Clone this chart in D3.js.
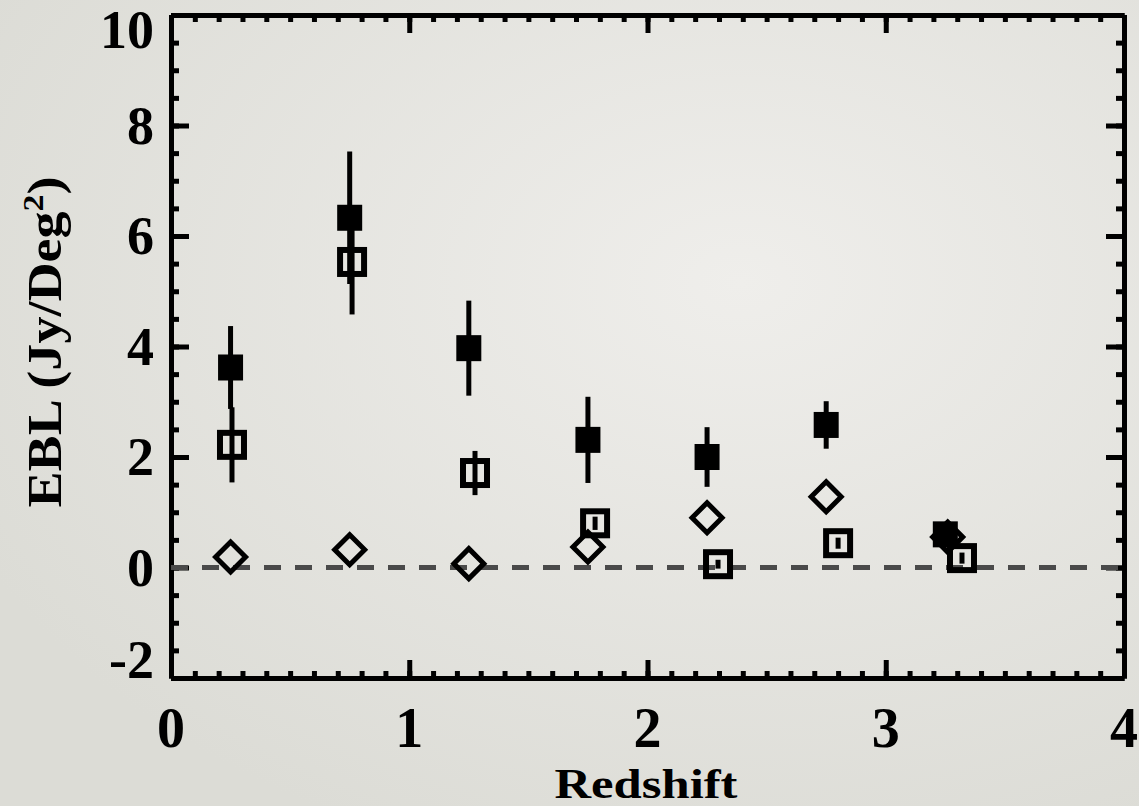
<!DOCTYPE html>
<html>
<head>
<meta charset="utf-8">
<script src="https://cdn.jsdelivr.net/npm/d3@7"></script>
<style>
  html, body { margin: 0; padding: 0; background: #e4e4df; }
  svg { display: block; }
  text { font-family: "Liberation Serif", "Times New Roman", serif; font-weight: bold; fill: #000; }
</style>
</head>
<body>
<svg id="chart"></svg>
<script>
// values
var redshiftFilled = [0.25, 0.75, 1.25, 1.75, 2.25, 2.75, 3.25];
var eblFilled      = [3.62, 6.33, 3.97, 2.31, 2.00, 2.58, 0.60];
var errFilled      = [0.75, 1.20, 0.86, 0.78, 0.54, 0.43, 0.00];

var redshiftOpen = [0.256, 0.76, 1.276, 1.78, 2.296, 2.80, 3.32];
var eblOpen      = [2.22, 5.53, 1.71, 0.80, 0.06, 0.44, 0.17];
var errOpen      = [0.68, 0.95, 0.40, 0.12, 0.08, 0.10, 0.10];

var redshiftDiamond = [0.25, 0.75, 1.25, 1.75, 2.25, 2.75, 3.26];
var eblDiamond      = [0.19, 0.32, 0.07, 0.37, 0.90, 1.28, 0.55];

var xTickLabels = [0, 1, 2, 3, 4];
var yTickLabels = [-2, 0, 2, 4, 6, 8, 10];

var width = 1139, height = 806;
// note: "top" is a reserved window property, so use plot* names
var plotLeft = 171, plotRight = 1124, plotTop = 15, plotBottom = 678;

var svg = d3.select("#chart").attr("width", width).attr("height", height);

// paper-like background
var defs = svg.append("defs");
var grad = defs.append("radialGradient").attr("id", "bg")
  .attr("cx", "65%").attr("cy", "35%").attr("r", "75%");
grad.append("stop").attr("offset", "0%").attr("stop-color", "#efeeeb");
grad.append("stop").attr("offset", "100%").attr("stop-color", "#dcdcd6");
svg.append("rect").attr("width", width).attr("height", height).attr("fill", "url(#bg)");

var x = d3.scaleLinear().domain([0, 4]).range([plotLeft, plotRight]);
var y = d3.scaleLinear().domain([-2, 10]).range([plotBottom, plotTop]);

var xMinor = d3.range(0, 4.0001, 0.1).map(function(d){ return +d.toFixed(1); });
var yMinor = d3.range(-2, 10.0001, 0.5);

function styleAxis(g){
  g.selectAll(".domain").attr("stroke", "#000").attr("stroke-width", 5);
  g.selectAll(".tick line").attr("stroke", "#000").attr("stroke-width", 5);
  g.selectAll(".tick text").remove();
}

// minor + major ticks on all four sides, pointing inward
[[d3.axisBottom, x, xMinor, 7, "translate(0," + plotBottom + ")"],
 [d3.axisTop,    x, xMinor, 7, "translate(0," + plotTop + ")"],
 [d3.axisBottom, x, xTickLabels, 18, "translate(0," + plotBottom + ")"],
 [d3.axisTop,    x, xTickLabels, 18, "translate(0," + plotTop + ")"],
 [d3.axisLeft,   y, yMinor, 8, "translate(" + plotLeft + ",0)"],
 [d3.axisRight,  y, yMinor, 8, "translate(" + plotRight + ",0)"],
 [d3.axisLeft,   y, yTickLabels, 18, "translate(" + plotLeft + ",0)"],
 [d3.axisRight,  y, yTickLabels, 18, "translate(" + plotRight + ",0)"]
].forEach(function(a){
  var ax = a[0](a[1]).tickValues(a[2]).tickSizeInner(-a[3]).tickSizeOuter(0).tickFormat("");
  svg.append("g").attr("transform", a[4]).call(ax).call(styleAxis);
});

// zero line
svg.append("line")
  .attr("x1", x(0)).attr("x2", x(4))
  .attr("y1", y(0)).attr("y2", y(0))
  .attr("stroke", "#4a4a4a").attr("stroke-width", 5)
  .attr("stroke-dasharray", "17,14");

// tick labels
svg.selectAll(".xlab").data(xTickLabels).enter().append("text")
  .attr("class", "xlab")
  .attr("x", function(d){ return x(d); })
  .attr("y", 747)
  .attr("text-anchor", "middle")
  .style("font-size", "56px")
  .text(function(d){ return d; });

svg.selectAll(".ylab").data(yTickLabels).enter().append("text")
  .attr("class", "ylab")
  .attr("x", 154)
  .attr("y", function(d){ return Math.min(Math.max(y(d), plotTop + 15), plotBottom - 18) + 18; })
  .attr("text-anchor", "end")
  .style("font-size", "54px")
  .text(function(d){ return d; });

// axis titles
svg.append("text")
  .attr("x", 646).attr("y", 798)
  .attr("text-anchor", "middle")
  .attr("textLength", 183).attr("lengthAdjust", "spacingAndGlyphs")
  .style("font-size", "42px")
  .text("Redshift");

var yt = svg.append("text")
  .attr("transform", "translate(61,342) rotate(-90)")
  .attr("text-anchor", "middle")
  .attr("textLength", 331).attr("lengthAdjust", "spacingAndGlyphs")
  .style("font-size", "48px");
yt.append("tspan").text("EBL (Jy/Deg");
yt.append("tspan").attr("dy", -18).style("font-size", "30px").text("2");
yt.append("tspan").attr("dy", 18).text(")");

// error bars
function errBars(xs, ys, es){
  svg.append("g").selectAll("line").data(xs).enter().append("line")
    .attr("x1", function(d){ return x(d); })
    .attr("x2", function(d){ return x(d); })
    .attr("y1", function(d, i){ return y(ys[i] + es[i]); })
    .attr("y2", function(d, i){ return y(ys[i] - es[i]); })
    .attr("stroke", "#000").attr("stroke-width", 5);
}
errBars(redshiftFilled, eblFilled, errFilled);
errBars(redshiftOpen, eblOpen, errOpen);

// diamonds
svg.append("g").selectAll("path").data(redshiftDiamond).enter().append("path")
  .attr("transform", function(d, i){ return "translate(" + x(d) + "," + y(eblDiamond[i]) + ")"; })
  .attr("d", "M0,-15L15,0L0,15L-15,0Z")
  .attr("fill", "none").attr("stroke", "#000").attr("stroke-width", 5);

// filled squares
svg.append("g").selectAll("rect").data(redshiftFilled).enter().append("rect")
  .attr("x", function(d){ return x(d) - 12.5; })
  .attr("y", function(d, i){ return y(eblFilled[i]) - 13; })
  .attr("width", 25).attr("height", 26)
  .attr("fill", "#000");

// open squares
svg.append("g").selectAll("rect").data(redshiftOpen).enter().append("rect")
  .attr("x", function(d){ return x(d) - 12; })
  .attr("y", function(d, i){ return y(eblOpen[i]) - 12; })
  .attr("width", 24).attr("height", 24)
  .attr("fill", "none").attr("stroke", "#000").attr("stroke-width", 6);
</script>
</body>
</html>
